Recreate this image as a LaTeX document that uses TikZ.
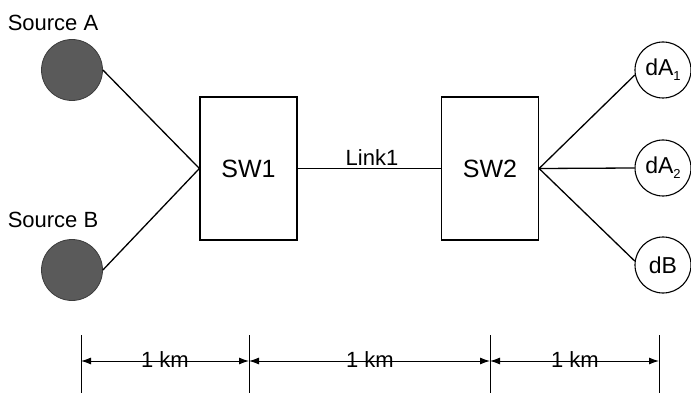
\documentclass[tikz,border=0pt]{standalone}
\usepackage{fontspec}
\setmainfont{Liberation Sans}
\usetikzlibrary{arrows.meta}
\definecolor{srcfill}{RGB}{90,90,90}
\definecolor{srcedge}{RGB}{60,60,60}
\newcommand{\lowsub}[1]{\raisebox{-5pt}{\fontsize{13}{13}\selectfont #1}}
\tikzset{
  swbox/.style={draw, line width=1.2pt, minimum width=97pt, minimum height=143pt, inner sep=0pt, font=\fontsize{25}{27}\selectfont},
  srcnode/.style={circle, draw=srcedge, fill=srcfill, line width=0.8pt, minimum size=61pt, inner sep=0pt},
  dstnode/.style={circle, draw, line width=1.1pt, minimum size=56pt, inner sep=0pt, font=\fontsize{23}{25}\selectfont},
  lbl/.style={anchor=base, inner sep=0pt, font=\fontsize{22}{24}\selectfont},
  conn/.style={line width=1.3pt},
  tick/.style={line width=1pt},
  dim/.style={line width=1pt, {Latex[length=10pt,width=7pt]}-{Latex[length=10pt,width=7pt]}},
}
\begin{document}
\begin{tikzpicture}[x=1pt,y=-1pt]
\useasboundingbox (0,0) rectangle (691,393);
% sources
\node[srcnode] (srcA) at (72,70) {};
\node[srcnode] (srcB) at (72,270) {};
\node[lbl] (labA) at (53,31) {Source A};
\node[lbl] (labB) at (53,227) {Source B};
% switches
\node[swbox] (sw1) at (248.5,168.5) {SW1};
\node[swbox] (sw2) at (490,168.5) {SW2};
\node[lbl] (link) at (372,165) {Link1};
% destinations
\node[dstnode] (dA1) at (663,70) {dA\lowsub{1}};
\node[dstnode] (dA2) at (663,168) {dA\lowsub{2}};
\node[dstnode] (dB) at (663,265) {dB};
% connectors
\draw[conn] (srcA.east) -- (sw1.west);
\draw[conn] (srcB.east) -- (sw1.west);
\draw[conn] (sw1.east) -- (sw2.west);
\draw[conn] (sw2.east) -- (dA1.190);
\draw[conn] (sw2.east) -- (dA2.west);
\draw[conn] (sw2.east) -- (dB.172);
% dimension ticks
\coordinate (t1) at (81,335);  \coordinate (b1) at (81,393);
\coordinate (t2) at (249,335); \coordinate (b2) at (249,393);
\coordinate (t3) at (490,335); \coordinate (b3) at (490,393);
\coordinate (t4) at (659,335); \coordinate (b4) at (659,393);
\draw[tick] (t1) -- (b1);
\draw[tick] (t2) -- (b2);
\draw[tick] (t3) -- (b3);
\draw[tick] (t4) -- (b4);
\coordinate (d1) at (81,361);
\coordinate (d2) at (249,361);
\coordinate (d3) at (490,361);
\coordinate (d4) at (659,361);
\node[lbl] (k1) at (165,367) {1 km};
\node[lbl] (k2) at (370,367) {1 km};
\node[lbl] (k3) at (575,367) {1 km};
\draw[dim] (d1) -- (d2);
\draw[dim] (d2) -- (d3);
\draw[dim] (d3) -- (d4);
\end{tikzpicture}
\end{document}
